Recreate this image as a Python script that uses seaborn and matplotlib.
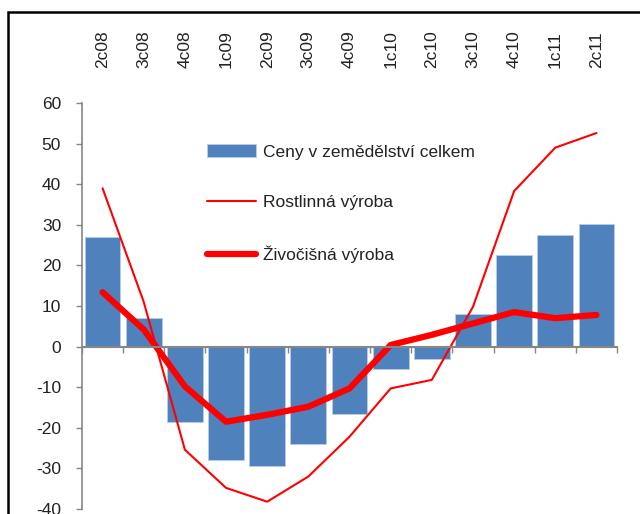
import numpy as np
import pandas as pd
import matplotlib
matplotlib.use('Agg')
import matplotlib.pyplot as plt
from matplotlib.patches import Rectangle
import seaborn as sns

kvartaly = ['2c08', '3c08', '4c08', '1c09', '2c09', '3c09', '4c09',
            '1c10', '2c10', '3c10', '4c10', '1c11', '2c11']
ceny_celkem = [27.1, 7.1, -18.6, -27.9, -29.3, -24.0, -16.5,
               -5.5, -3.0, 8.0, 22.6, 27.5, 30.1]
rostlinna = [39.0, 11.0, -25.4, -34.8, -38.2, -32.0, -22.2,
             -10.3, -8.2, 9.8, 38.3, 49.0, 52.6]
zivocisna = [13.4, 4.2, -9.8, -18.5, -16.8, -14.8, -10.3,
             0.4, 2.9, 5.7, 8.5, 7.0, 7.8]

df = pd.DataFrame({'kvartal': kvartaly, 'ceny': ceny_celkem,
                   'rostlinna': rostlinna, 'zivocisna': zivocisna})
df['poz'] = np.arange(len(df))

sns.set_style('white')
plt.rcParams['font.family'] = ['Liberation Sans', 'DejaVu Sans']
plt.rcParams['axes.unicode_minus'] = False

fig = plt.figure(figsize=(6.4, 5.14), dpi=100)
ax = fig.add_axes([82 / 640, 5 / 514, 535 / 640, 406 / 514])

sns.barplot(data=df, x='poz', y='ceny', color='#4F81BD', saturation=1,
            width=0.87, edgecolor='#B9CDE5', linewidth=0.6,
            label='Ceny v zemědělství celkem', ax=ax)
sns.lineplot(data=df, x='poz', y='rostlinna', color='#FF0000', linewidth=1.5,
             label='Rostlinná výroba', ax=ax)
sns.lineplot(data=df, x='poz', y='zivocisna', color='#FF0000', linewidth=4.5,
             solid_capstyle='round', label='Živočišná výroba', ax=ax)

ax.set_xlim(-0.5, len(kvartaly) - 0.5)
ax.set_ylim(-40, 60)
ax.set_yticks(range(-40, 61, 10))
ax.set_xlabel('')
ax.set_ylabel('')

gray = '#868686'
for s in ['top', 'right']:
    ax.spines[s].set_visible(False)
ax.spines['left'].set_color(gray)
ax.spines['bottom'].set_color(gray)
ax.spines['bottom'].set_position(('data', 0))
ax.spines['left'].set_linewidth(1.2)
ax.spines['bottom'].set_linewidth(1.5)

ax.set_xticks(df['poz'])
ax.set_xticklabels(kvartaly, rotation=90)
ax.set_xticks(np.arange(-0.5, len(kvartaly)), minor=True)
ax.tick_params(axis='x', which='major', bottom=False, top=False,
               labelbottom=False, labeltop=True, pad=22, labelsize=12.5,
               labelcolor='#222222')
ax.tick_params(axis='x', which='minor', bottom=True, direction='out',
               length=4, width=1, color=gray)
ax.tick_params(axis='y', left=True, direction='out', length=4, width=1,
               color=gray, pad=11, labelsize=12.5, labelcolor='#222222')

handles, labels = ax.get_legend_handles_labels()
poradi = [labels.index('Ceny v zemědělství celkem'),
          labels.index('Rostlinná výroba'),
          labels.index('Živočišná výroba')]
ax.legend([handles[i] for i in poradi], [labels[i] for i in poradi],
          loc='upper left', bbox_to_anchor=(0.234, 0.898), frameon=False,
          borderaxespad=0, borderpad=0, fontsize=12.5, handlelength=2.8,
          handletextpad=0.4, labelspacing=2.05, labelcolor='#222222')

fig.patches.append(Rectangle((8 / 640, -0.1), 1.2, (514 - 12) / 514 + 0.1,
                             transform=fig.transFigure, fill=False,
                             edgecolor='black', linewidth=1.8))

fig.savefig('out.png', dpi=100)
